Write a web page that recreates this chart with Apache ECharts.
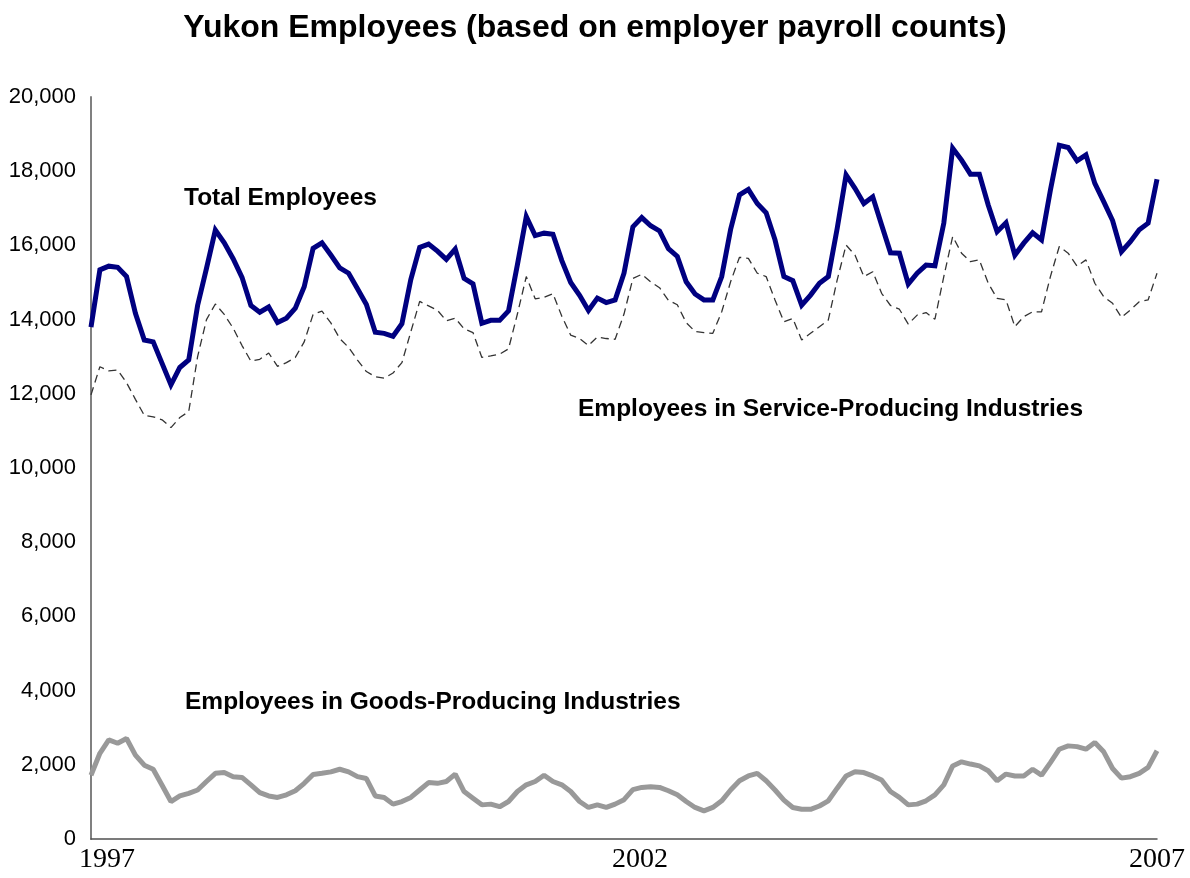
<!DOCTYPE html>
<html>
<head>
<meta charset="utf-8">
<script src="https://cdn.jsdelivr.net/npm/echarts@6/dist/echarts.min.js"></script>
<style>
  html, body { margin: 0; padding: 0; background: #ffffff; }
  #chart { width: 1190px; height: 878px; }
</style>
</head>
<body>
<div id="chart"></div>
<script>
// ---- data (monthly) ----
const startYear = 1997;
const yearTickLabels = ['1997', '2002', '2007'];
const yearTickIndex = [0, 60, 120];

const totalEmployees = [
  13800, 15340, 15440, 15410, 15160, 14170, 13450, 13400, 12820, 12240, 12710, 12910,
  14380, 15380, 16415, 16070, 15640, 15140, 14380, 14200, 14340, 13920, 14040, 14310,
  14885, 15920, 16070, 15740, 15395, 15250, 14830, 14410, 13660, 13630, 13550, 13890,
  15080, 15945, 16035, 15845, 15625, 15900, 15110, 14965, 13900, 13980, 13980, 14235,
  15480, 16775, 16265, 16330, 16300, 15590, 15000, 14655, 14245, 14580, 14460, 14530,
  15250, 16500, 16750, 16530, 16390, 15910, 15705, 15020, 14690, 14530, 14530, 15160,
  16430, 17360, 17510, 17130, 16880, 16150, 15160, 15050, 14390, 14660, 14980, 15160,
  16460, 17900, 17540, 17130, 17310, 16550, 15800, 15790, 14960, 15250, 15470, 15450,
  16600, 18620, 18300, 17920, 17920, 17090, 16370, 16610, 15740, 16060, 16340, 16150,
  17490, 18700, 18640, 18280, 18440, 17670, 17180, 16670, 15830, 16100, 16420, 16600,
  17780
];

const serviceEmployees = [
  11970, 12730, 12620, 12640, 12300, 11850, 11420, 11380, 11300, 11090, 11360, 11520,
  13000, 14000, 14420, 14140, 13770, 13300, 12880, 12930, 13100, 12740, 12840, 12980,
  13400, 14140, 14230, 13910, 13490, 13250, 12910, 12600, 12460, 12420, 12560, 12840,
  13670, 14490, 14370, 14250, 13970, 14040, 13750, 13650, 12980, 13020, 13070, 13210,
  14150, 15160, 14560, 14600, 14700, 14090, 13580, 13490, 13300, 13530, 13490, 13470,
  14150, 15110, 15220, 15020, 14860, 14520, 14400, 13920, 13680, 13650, 13630, 14210,
  15020, 15680, 15650, 15250, 15160, 14530, 13940, 14030, 13450, 13630, 13810, 13990,
  15070, 16010, 15740, 15160, 15290, 14710, 14380, 14280, 13880, 14120, 14190, 14010,
  15160, 16240, 15790, 15560, 15610, 14980, 14570, 14530, 13810, 14080, 14210, 14210,
  15160, 15970, 15790, 15440, 15610, 14980, 14620, 14440, 14060, 14260, 14480, 14530,
  15250
];

const goodsEmployees = [
  1720, 2310, 2670, 2580, 2710, 2260, 1990, 1880, 1450, 1010, 1160, 1230,
  1320, 1550, 1770, 1790, 1680, 1660, 1460, 1250, 1160, 1120, 1190, 1300,
  1500, 1740, 1770, 1810, 1880, 1810, 1680, 1630, 1160, 1120, 940, 1010,
  1120, 1320, 1520, 1500, 1550, 1750, 1280, 1100, 920, 940, 870, 1010,
  1280, 1460, 1550, 1720, 1550, 1460, 1280, 1010, 850, 920, 850, 940,
  1060, 1330, 1390, 1410, 1390, 1300, 1190, 1010, 850, 760, 850, 1030,
  1320, 1570, 1700, 1770, 1570, 1320, 1050, 850, 800, 800, 890, 1030,
  1370, 1700, 1810, 1790, 1700, 1590, 1280, 1120, 920, 940, 1030, 1190,
  1460, 1970, 2080, 2020, 1970, 1840, 1570, 1750, 1700, 1700, 1880, 1720,
  2060, 2420, 2510, 2490, 2420, 2600, 2350, 1900, 1640, 1680, 1770, 1930,
  2380
];

// category labels (one per month)
const categories = totalEmployees.map(function (_, i) {
  const y = startYear + Math.floor(i / 12);
  const m = (i % 12) + 1;
  return y + '-' + (m < 10 ? '0' + m : m);
});

const chart = echarts.init(document.getElementById('chart'), null, { renderer: 'canvas' });

const sans = '"Liberation Sans", Arial, sans-serif';
const serif = '"Liberation Serif", "Times New Roman", serif';

chart.setOption({
  backgroundColor: '#ffffff',
  animation: false,
  title: {
    text: 'Yukon Employees (based on employer payroll counts)',
    left: 'center',
    top: 7,
    textStyle: { fontFamily: sans, fontSize: 32, fontWeight: 'bold', color: '#000000' }
  },
  grid: { left: 91, right: 33, top: 97, bottom: 39, containLabel: false },
  xAxis: {
    type: 'category',
    data: categories,
    boundaryGap: false,
    axisLine: { show: true, lineStyle: { color: '#505050', width: 1.5 } },
    axisTick: { show: false },
    splitLine: { show: false },
    axisLabel: {
      interval: function (idx) { return yearTickIndex.indexOf(idx) >= 0; },
      formatter: function (v, idx) {
        const k = yearTickIndex.indexOf(idx);
        if (k < 0) return '';
        return k < 2 ? '{s|' + yearTickLabels[k] + '}' : '{n|' + yearTickLabels[k] + '}';
      },
      margin: 7,
      color: '#000000',
      fontFamily: serif,
      fontSize: 28,
      rich: {
        s: { fontFamily: serif, fontSize: 28, color: '#000', padding: [0, 0, 0, 32] },
        n: { fontFamily: serif, fontSize: 28, color: '#000' }
      }
    }
  },
  yAxis: {
    type: 'value',
    min: 0,
    max: 20000,
    interval: 2000,
    axisLine: { show: true, lineStyle: { color: '#808080', width: 2 } },
    axisTick: { show: false },
    splitLine: { show: false },
    axisLabel: {
      margin: 15,
      color: '#000000',
      fontFamily: sans,
      fontSize: 22,
      formatter: function (v) { return v.toLocaleString('en-US'); }
    }
  },
  series: [
    {
      name: 'Total Employees',
      type: 'line',
      data: totalEmployees,
      showSymbol: false,
      lineStyle: { color: '#000080', width: 5, join: 'miter' },
      z: 3
    },
    {
      name: 'Employees in Service-Producing Industries',
      type: 'line',
      data: serviceEmployees,
      showSymbol: false,
      lineStyle: { color: '#333333', width: 1.3, type: [8, 5] },
      z: 2
    },
    {
      name: 'Employees in Goods-Producing Industries',
      type: 'line',
      data: goodsEmployees,
      showSymbol: false,
      lineStyle: { color: '#999999', width: 5 },
      z: 2
    }
  ],
  graphic: [
    { type: 'text', x: 184, y: 198, style: { text: 'Total Employees', font: 'bold 24.5px "Liberation Sans", Arial, sans-serif', fill: '#000', textVerticalAlign: 'middle', verticalAlign: 'middle' } },
    { type: 'text', x: 578, y: 409, style: { text: 'Employees in Service-Producing Industries', font: 'bold 24.5px "Liberation Sans", Arial, sans-serif', fill: '#000', textVerticalAlign: 'middle', verticalAlign: 'middle' } },
    { type: 'text', x: 185, y: 702, style: { text: 'Employees in Goods-Producing Industries', font: 'bold 24.5px "Liberation Sans", Arial, sans-serif', fill: '#000', textVerticalAlign: 'middle', verticalAlign: 'middle' } }
  ]
});
</script>
</body>
</html>
